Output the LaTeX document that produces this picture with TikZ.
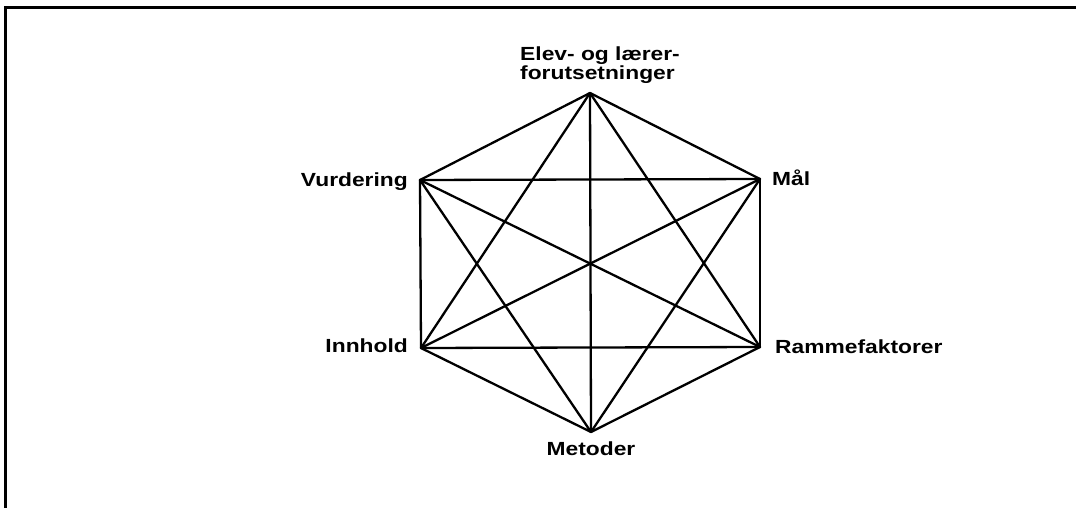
\documentclass[tikz,border=0pt]{standalone}
\usepackage{fontspec}
\setmainfont{Liberation Sans}[FakeStretch=1.2]
\begin{document}
\begin{tikzpicture}[x=1pt,y=-1pt,
  edge/.style={line width=2.3pt,line cap=round,line join=round},
  lab/.style={inner sep=0pt,font=\fontsize{19pt}{17pt}\selectfont\bfseries},
  frame/.style={line width=3pt}]
\useasboundingbox (0,0) rectangle (1076,508);
\fill[white] (0,0) rectangle (1076,508);
\draw[frame] (1076,7.5) -- (5.5,7.5) -- (5.5,508);
% vertices
\coordinate (T)  at (590,93);
\coordinate (UR) at (760,179);
\coordinate (LR) at (760,347);
\coordinate (B)  at (591,432);
\coordinate (LL) at (421,348);
\coordinate (UL) at (420,180);
% complete graph
\foreach \a/\b in {T/UR,T/LR,T/B,T/LL,T/UL,UR/LR,UR/B,UR/LL,UR/UL,LR/B,LR/LL,LR/UL,B/LL,B/UL,LL/UL}
  \draw[edge] (\a) -- (\b);
% labels
\node[lab,anchor=north west,align=left] (tl) at (520,47) {Elev- og lærer-\\forutsetninger};
\node[lab,anchor=base east] (vl) at (408,186) {Vurdering};
\node[lab,anchor=base west] (ml) at (772,185) {Mål};
\node[lab,anchor=base east] (il) at (408,352) {Innhold};
\node[lab,anchor=base west] (rl) at (775,353) {Rammefaktorer};
\node[lab,anchor=base] (mel) at (591,455) {Metoder};
\end{tikzpicture}
\end{document}
